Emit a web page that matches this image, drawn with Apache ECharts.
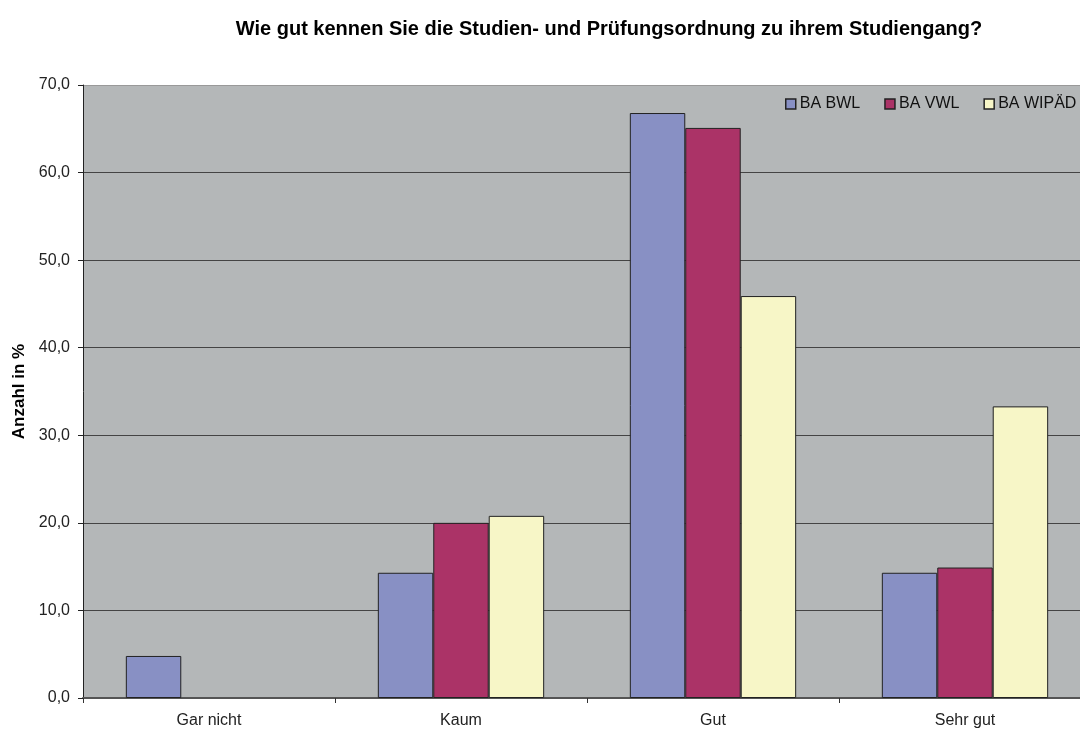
<!DOCTYPE html>
<html>
<head>
<meta charset="utf-8">
<script src="https://cdn.jsdelivr.net/npm/echarts@6/dist/echarts.min.js"></script>
<style>
html, body { margin: 0; padding: 0; background: #fff; }
#chart { width: 1080px; height: 731px; }
</style>
</head>
<body>
<div id="chart"></div>
<script>
// Kategorien und Werte (Anzahl in %)
const categories = ["Gar nicht", "Kaum", "Gut", "Sehr gut"];
const baBwl = [4.8, 14.3, 66.8, 14.3];
const baVwl = [0, 20.0, 65.1, 14.9];
const baWipaed = [0, 20.8, 45.9, 33.3];
const seriesNames = ["BA BWL", "BA VWL", "BA WIPÄD"];

const font = "Liberation Sans, Arial, sans-serif";
const chart = echarts.init(document.getElementById("chart"));

function bar(name, data, color) {
    return {
        name: name,
        type: "bar",
        // Nullwerte ohne Balkenrand zeichnen
        data: data.map((v) => (v === 0 ? "-" : v)),
        barGap: "0%",
        barCategoryGap: "34%",
        itemStyle: { color: color, borderColor: "#222", borderWidth: 1 },
    };
}

chart.setOption({
    animation: false,
    title: {
        text: "Wie gut kennen Sie die Studien- und Prüfungsordnung zu ihrem Studiengang?",
        left: 604,
        textAlign: "center",
        top: 14,
        textStyle: { fontFamily: font, fontSize: 20, fontWeight: "bold", color: "#000" },
    },
    legend: {
        data: seriesNames,
        left: 785,
        top: 96,
        padding: 0,
        itemWidth: 10,
        itemHeight: 10,
        itemGap: 24,
        icon: "rect",
        textStyle: { fontFamily: font, fontSize: 16, color: "#111", padding: [0, 0, 0, -1] },
        itemStyle: { borderColor: "#222", borderWidth: 1.5 },
    },
    grid: {
        left: 83,
        top: 85,
        bottom: 33,
        width: 1008,
        outerBoundsMode: "none",
        show: true,
        backgroundColor: "#b4b7b8",
        borderWidth: 0,
    },
    xAxis: {
        type: "category",
        data: categories,
        axisLine: { lineStyle: { color: "#555", width: 2 } },
        axisTick: { show: true, length: 5, lineStyle: { color: "#333" } },
        axisLabel: { fontFamily: font, fontSize: 16, color: "#222", margin: 15 },
    },
    yAxis: {
        type: "value",
        min: 0,
        max: 70,
        interval: 10,
        name: "Anzahl in %",
        nameLocation: "middle",
        nameGap: 55,
        nameRotate: 90,
        nameTextStyle: { fontFamily: font, fontSize: 17, fontWeight: "bold", color: "#000" },
        axisLine: { show: true, lineStyle: { color: "#222", width: 1 } },
        axisTick: { show: true, length: 5, lineStyle: { color: "#222" } },
        axisLabel: {
            fontFamily: font,
            fontSize: 16,
            color: "#222",
            margin: 13,
            formatter: (v) => v.toFixed(1).replace(".", ","),
        },
        splitLine: {
            show: true,
            lineStyle: {
                color: ["#555", "#444", "#444", "#444", "#444", "#444", "#444", "#999"],
                width: 1,
            },
        },
    },
    series: [
        bar(seriesNames[0], baBwl, "#8890c4"),
        bar(seriesNames[1], baVwl, "#ab3367"),
        bar(seriesNames[2], baWipaed, "#f7f6c7"),
    ],
});
</script>
</body>
</html>
